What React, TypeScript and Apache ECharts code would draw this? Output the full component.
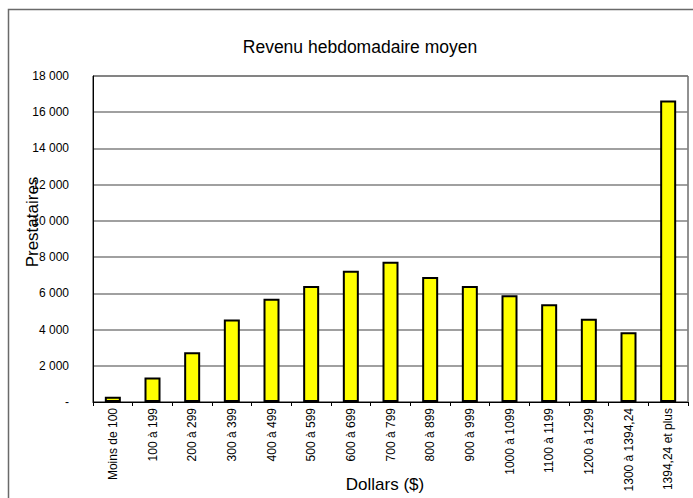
import React, { useEffect, useRef } from "react";
import * as echarts from "echarts";

const categories = [
  "Moins de 100",
  "100 à 199",
  "200 à 299",
  "300 à 399",
  "400 à 499",
  "500 à 599",
  "600 à 699",
  "700 à 799",
  "800 à 899",
  "900 à 999",
  "1000 à 1099",
  "1100 à 1199",
  "1200 à 1299",
  "1300 à 1394,24",
  "1394,24 et plus",
];

const prestataires = [
  290, 1350, 2750, 4550, 5700, 6400, 7250, 7750, 6900, 6400, 5900, 5400, 4600,
  3850, 16650,
];

const titleText = "Revenu hebdomadaire moyen";
const xName = "Dollars ($)";
const yName = "Prestataires";

const fmt = (v: number) =>
  v === 0 ? "-" : String(v).replace(/\B(?=(\d{3})+(?!\d))/g, " ");

export default function App() {
  const ref = useRef<HTMLDivElement>(null);
  useEffect(() => {
    if (!ref.current) return;
    const chart = echarts.init(ref.current, undefined, { renderer: "svg" });
    const font = "Liberation Sans, Arial, sans-serif";
    chart.setOption({
      animation: false,
      backgroundColor: "#ffffff",
      textStyle: { fontFamily: font },
      title: {
        text: titleText,
        left: 355,
        top: 33,
        textAlign: "center",
        textStyle: {
          fontFamily: font,
          fontSize: 17.5,
          fontWeight: "normal",
          color: "#000",
        },
      },
      graphic: [
        {
          type: "polyline",
          shape: {
            points: [
              [8.5, 498],
              [8.5, 9.5],
              [693, 9.5],
            ],
          },
          style: { fill: null, stroke: "#6a6a6a", lineWidth: 1.5 },
          silent: true,
          z: 100,
        },
        {
          type: "text",
          x: 32,
          y: 222,
          rotation: Math.PI / 2,
          style: {
            text: yName,
            fontFamily: font,
            fontSize: 17,
            fill: "#000",
            align: "center",
            verticalAlign: "middle",
          },
        },
        {
          type: "text",
          x: 385,
          y: 484,
          style: {
            text: xName,
            fontFamily: font,
            fontSize: 17,
            fill: "#000",
            align: "center",
            verticalAlign: "middle",
          },
        },
      ],
      grid: {
        left: 93,
        top: 76,
        width: 595,
        height: 326,
        show: true,
        borderColor: "#222",
        borderWidth: 1,
        backgroundColor: "transparent",
      },
      xAxis: {
        type: "category",
        data: categories,
        axisLine: { show: true, lineStyle: { color: "#000", width: 1 } },
        axisTick: {
          show: true,
          length: 4,
          inside: false,
          lineStyle: { color: "#000" },
        },
        axisLabel: {
          rotate: 90,
          interval: 0,
          fontSize: 12,
          fontFamily: font,
          color: "#000",
          margin: 6,
        },
      },
      yAxis: {
        type: "value",
        min: 0,
        max: 18000,
        interval: 2000,
        axisLine: { show: true, lineStyle: { color: "#000", width: 1 } },
        axisTick: { show: false },
        splitLine: { show: true, lineStyle: { color: "#808080", width: 1.5 } },
        axisLabel: {
          fontSize: 12,
          fontFamily: font,
          color: "#000",
          margin: 24,
          formatter: (v: number) => fmt(v),
        },
      },
      series: [
        {
          type: "bar",
          data: prestataires,
          barWidth: 16,
          itemStyle: {
            color: "#FFFF00",
            borderColor: "#000",
            borderWidth: 2,
          },
        },
      ],
    });
    return () => chart.dispose();
  }, []);
  return (
    <div
      ref={ref}
      style={{ position: "fixed", left: 0, top: 0, width: 693, height: 498 }}
    />
  );
}
